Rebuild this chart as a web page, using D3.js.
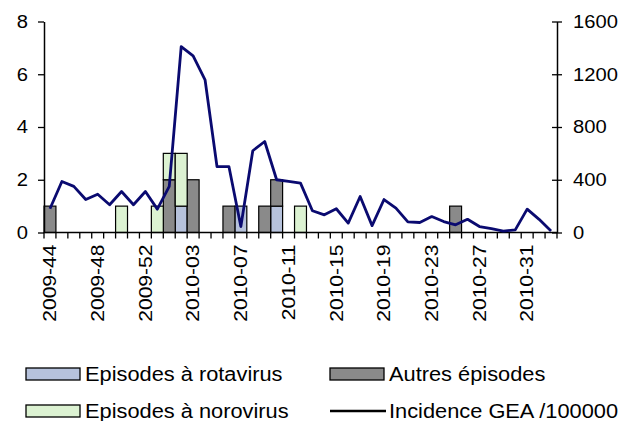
<!DOCTYPE html>
<html><head><meta charset="utf-8">
<script src="https://cdn.jsdelivr.net/npm/d3@7"></script>
<style>
body{margin:0;background:#fff}
text{font-family:"Liberation Sans",Arial,sans-serif;fill:#000}
</style>
</head><body>
<svg id="c" width="622" height="421"></svg>
<script>
const weeks = ["2009-44","2009-45","2009-46","2009-47","2009-48","2009-49","2009-50","2009-51","2009-52","2009-53",
  "2010-01","2010-02","2010-03","2010-04","2010-05","2010-06","2010-07","2010-08","2010-09","2010-10",
  "2010-11","2010-12","2010-13","2010-14","2010-15","2010-16","2010-17","2010-18","2010-19","2010-20",
  "2010-21","2010-22","2010-23","2010-24","2010-25","2010-26","2010-27","2010-28","2010-29","2010-30",
  "2010-31","2010-32","2010-33"];
const rotavirus = [0,0,0,0,0,0,0,0,0,0, 0,1,0,0,0,0,1,0,0,1, 0,0,0,0,0,0,0,0,0,0, 0,0,0,0,0,0,0,0,0,0, 0,0,0];
const autres    = [1,0,0,0,0,0,0,0,0,0, 2,0,2,0,0,1,0,0,1,1, 0,0,0,0,0,0,0,0,0,0, 0,0,0,0,1,0,0,0,0,0, 0,0,0];
const norovirus = [0,0,0,0,0,0,1,0,0,1, 1,2,0,0,0,0,0,0,0,0, 0,1,0,0,0,0,0,0,0,0, 0,0,0,0,0,0,0,0,0,0, 0,0,0];
const incidence = [180,387,350,250,290,210,311,210,311,177,
  350,1410,1340,1158,500,500,45,620,690,400,
  387,374,165,134,180,71,273,52,250,185,
  80,76,121,83,58,100,45,30,10,20,
  177,100,12];
const leftTicks = [0,2,4,6,8];
const rightTicks = [0,400,800,1200,1600];
const labelWeeks = ["2009-44","2009-48","2009-52","2010-03","2010-07","2010-11","2010-15","2010-19","2010-23","2010-27","2010-31"];
const seriesNames = ["Episodes à rotavirus","Autres épisodes","Episodes à norovirus","Incidence GEA /100000"];
const colors = {rot:"#b6c2dc", aut:"#8a8a8a", nor:"#dcf2d2", line:"#0a0a70"};

const svg = d3.select("#c");
const L = 44, R = 557, T = 21.5, B = 232.5;
const x = d3.scaleBand().domain(weeks).range([L, R]).padding(0);
const yL = d3.scaleLinear().domain([0, 8]).range([B, T]);
const yR = d3.scaleLinear().domain([0, 1600]).range([B, T]);

function stretch(sel, f) {
  sel.each(function () {
    const w = this.getComputedTextLength();
    d3.select(this).attr("textLength", w * f).attr("lengthAdjust", "spacingAndGlyphs");
  });
}

const table = weeks.map((w, i) => ({week: w, rot: rotavirus[i], aut: autres[i], nor: norovirus[i], inc: incidence[i]}));
const stack = d3.stack().keys(["rot", "aut", "nor"])(table);

stack.forEach(s => {
  svg.append("g").selectAll("rect").data(s.filter(d => d[1] - d[0] > 0)).join("rect")
    .attr("x", d => x(d.data.week))
    .attr("width", x.bandwidth())
    .attr("y", d => yL(d[1]))
    .attr("height", d => yL(d[0]) - yL(d[1]))
    .attr("fill", colors[s.key])
    .attr("stroke", "#000").attr("stroke-width", 1.2);
});

// x axis baseline and boundary ticks
const xa = svg.append("g");
xa.append("line").attr("x1", L).attr("x2", R).attr("y1", B).attr("y2", B).attr("stroke", "#000").attr("stroke-width", 1.5);
xa.selectAll("line.t").data(weeks.concat(["end"])).join("line").attr("class","t")
  .attr("x1", (d, i) => L + i * x.step()).attr("x2", (d, i) => L + i * x.step())
  .attr("y1", B).attr("y2", B + 6).attr("stroke", "#000").attr("stroke-width", 1.3);
const xlab = d3.axisBottom(x).tickValues(labelWeeks).tickSize(0).tickPadding(0);
const gx = svg.append("g").attr("transform", `translate(0,${B})`).call(xlab);
gx.select(".domain").remove();
gx.selectAll("text").attr("font-size", 18).attr("transform", "rotate(-90)")
  .attr("text-anchor", "end").attr("x", -12).attr("y", 0).attr("dy", "0.35em");
stretch(gx.selectAll("text"), 1.17);

// left axis
const gl = svg.append("g").attr("transform", `translate(${L},0)`)
  .call(d3.axisLeft(yL).tickValues(leftTicks).tickSize(6).tickSizeOuter(0).tickPadding(10));
gl.select(".domain").attr("stroke-width", 1.5);
gl.selectAll("line").attr("stroke-width", 1.3);
gl.selectAll("text").attr("font-size", 18);
stretch(gl.selectAll("text"), 1.12);

// right axis
const gr = svg.append("g").attr("transform", `translate(${R},0)`)
  .call(d3.axisRight(yR).tickValues(rightTicks).tickFormat(d3.format("d")).tickSize(5).tickSizeOuter(0).tickPadding(11));
gr.select(".domain").attr("stroke-width", 1.5);
gr.selectAll(".tick line").attr("x1", -5).attr("stroke-width", 1.3);
gr.selectAll("text").attr("font-size", 18);
stretch(gr.selectAll("text"), 1.12);

// incidence line
const line = d3.line().x(d => x(d.week) + x.bandwidth() / 2).y(d => yR(d.inc));
svg.append("path").datum(table).attr("d", line).attr("fill", "none")
  .attr("stroke", colors.line).attr("stroke-width", 2.8).attr("stroke-linejoin", "round");

// legend
const leg = [
  {name: seriesNames[0], type: "rect", fill: colors.rot, x: 26, y: 374},
  {name: seriesNames[1], type: "rect", fill: colors.aut, x: 330, y: 374},
  {name: seriesNames[2], type: "rect", fill: colors.nor, x: 26, y: 411},
  {name: seriesNames[3], type: "line", fill: colors.line, x: 330, y: 411}
];
const lg = svg.append("g");
leg.forEach(d => {
  if (d.type === "rect") {
    lg.append("rect").attr("x", d.x).attr("y", d.y - 6).attr("width", 54).attr("height", 12)
      .attr("fill", d.fill).attr("stroke", "#000").attr("stroke-width", 1.3);
  } else {
    lg.append("line").attr("x1", d.x).attr("x2", d.x + 56).attr("y1", d.y).attr("y2", d.y)
      .attr("stroke", "#000").attr("stroke-width", 2.6);
  }
  lg.append("text").attr("x", d.x + 59).attr("y", d.y).attr("dy", "0.35em")
    .attr("font-size", 20).text(d.name);
});
stretch(lg.selectAll("text"), 1.09);
</script>
</body></html>
